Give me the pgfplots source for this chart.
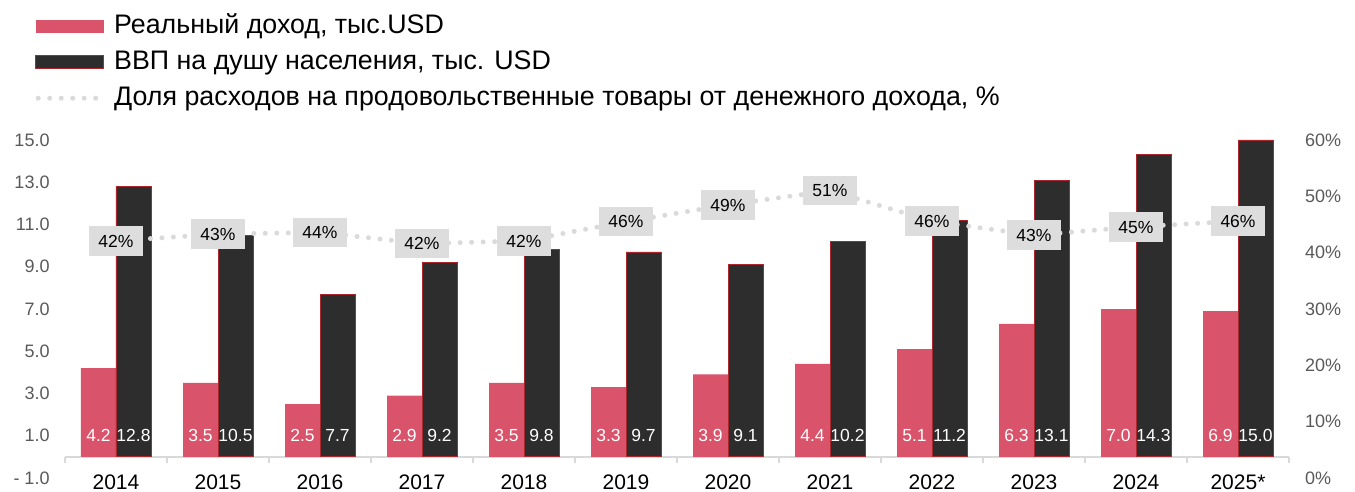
\documentclass[border=0pt]{standalone}
\usepackage{pgfplots}
\pgfplotsset{compat=1.18}
\usepackage{pgfplotstable}
\usepackage{fontspec}
\setmainfont{Liberation Sans}

\definecolor{pinkbar}{HTML}{D9546B}
\definecolor{darkbar}{HTML}{2D2D2D}
\definecolor{darkedge}{HTML}{A8282E}
\definecolor{dotgray}{HTML}{DADADA}
\definecolor{boxgray}{HTML}{DDDDDD}
\definecolor{tickgray}{HTML}{595959}
\definecolor{axisgray}{HTML}{D9D9D9}

\pgfplotsset{/pgf/number format/assume math mode=true}

% x  income  gdp  share(%)  label
\pgfplotstableread{
x  inc  gdp   share lab
0  4.2  12.8  42.1  42
1  3.5  10.5  43.3  43
2  2.5  7.7   43.6  44
3  2.9  9.2   41.6  42
4  3.5  9.8   42.1  42
5  3.3  9.7   45.5  46
6  3.9  9.1   48.5  49
7  4.4  10.2  51.0  51
8  5.1  11.2  45.6  46
9  6.3  13.1  43.1  43
10 7.0  14.3  44.6  45
11 6.9  15.0  45.6  46
}\datatable

\begin{document}
\begin{tikzpicture}
\path[use as bounding box] (-65pt,-13pt) rectangle (1290pt,478pt);

\begin{axis}[
  scale only axis,
  x=102pt, y=21.125pt,
  xmin=-0.5, xmax=11.5, ymin=-1, ymax=15,
  axis x line*=middle, axis y line*=left,
  x axis line style={axisgray, line width=1.3pt},
  y axis line style={draw=none},
  xtick={0,...,11},
  xticklabels={2014,2015,2016,2017,2018,2019,2020,2021,2022,2023,2024,2025*},
  minor xtick={-0.5,0.5,...,11.5},
  tick align=outside,
  major x tick style={draw=none},
  minor x tick style={axisgray, line width=1.3pt},
  minor tick length=6pt,
  ytick={-1,1,...,15},
  yticklabels={- 1.0,1.0,3.0,5.0,7.0,9.0,11.0,13.0,15.0},
  ytick style={draw=none},
  xticklabel style={font=\fontsize{21}{25}\selectfont, text=black, inner sep=0pt, yshift=-13pt},
  yticklabel style={font=\fontsize{18}{21}\selectfont, text=tickgray, inner sep=0pt, xshift=-11pt},
  legend style={at={(axis description cs:-0.0245,1.3757)}, anchor=north west,
    draw=none, fill=none, inner sep=0pt, row sep=10pt,
    font=\fontsize{26.8}{32}\selectfont,
    nodes={inner sep=0pt, text height=20pt, text depth=6pt},
    /tikz/every odd column/.append style={column sep=8pt}},
  legend cell align=left,
  clip=false,
]
\addplot[ybar, bar width=35pt, bar shift=-17.5pt, fill=pinkbar, draw=none,
  legend image code/.code={\fill[pinkbar] (0pt,-6.5pt) rectangle (68pt,6.5pt);},
  nodes near coords={\pgfmathprintnumber[fixed,fixed zerofill,precision=1]{\pgfplotspointmeta}},
  visualization depends on={rawy \as \rawy},
  every node near coord/.style={anchor=center, text=white, inner sep=0pt,
    font=\fontsize{17.5}{21}\selectfont, xshift=-17.5pt, yshift={(1-\rawy)*21.125pt}},
] table[x=x, y=inc] {\datatable};
\addlegendentry{Реальный доход, тыс.USD}

\addplot[ybar, bar width=35pt, bar shift=17.5pt, fill=darkbar, draw=darkedge, line width=0.8pt,
  legend image code/.code={\filldraw[fill=darkbar, draw=darkedge, line width=1pt] (0pt,-6.5pt) rectangle (68pt,6.5pt);},
  nodes near coords={\pgfmathprintnumber[fixed,fixed zerofill,precision=1]{\pgfplotspointmeta}},
  visualization depends on={rawy \as \rawy},
  every node near coord/.style={anchor=center, text=white, inner sep=0pt,
    font=\fontsize{17.5}{21}\selectfont, xshift=17.5pt, yshift={(1-\rawy)*21.125pt}},
] table[x=x, y=gdp] {\datatable};
\addlegendentry{ВВП на душу населения, тыс. USD}

\addlegendimage{legend image code/.code={\draw[dotgray, line width=5pt, dash pattern=on 0pt off 11.5pt, line cap=round] (2.5pt,0pt) -- (68pt,0pt);}}
\addlegendentry{Доля расходов на продовольственные товары от денежного дохода, \%}
\end{axis}

\begin{axis}[
  scale only axis,
  x=102pt, y=5.63333pt,
  xmin=-0.5, xmax=11.5, ymin=0, ymax=60,
  axis x line=none, axis y line*=right,
  y axis line style={draw=none},
  ytick={0,10,...,60},
  yticklabels={0\%,10\%,20\%,30\%,40\%,50\%,60\%},
  ytick style={draw=none},
  yticklabel style={font=\fontsize{18}{21}\selectfont, text=tickgray, inner sep=0pt, xshift=16pt},
  clip=false,
]
\addplot[dotgray, line width=5pt, dash pattern=on 0pt off 11.5pt, line cap=round,
  point meta=explicit,
  nodes near coords={\pgfmathprintnumber{\pgfplotspointmeta}\%},
  every node near coord/.style={anchor=center, fill=boxgray, text=black,
    inner xsep=9.5pt, inner ysep=8.5pt, text height=12.5pt, text depth=0pt,
    font=\fontsize{17.5}{20}\selectfont},
] table[x=x, y=share, meta=lab] {\datatable};
\end{axis}
\end{tikzpicture}
\end{document}
